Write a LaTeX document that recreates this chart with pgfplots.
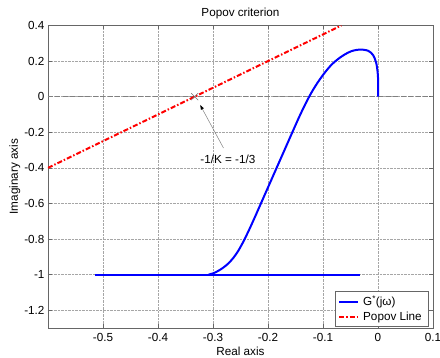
\documentclass[border=0pt]{standalone}
\usepackage{fontspec}
\setmainfont{Liberation Sans}
\usepackage{pgfplots}
\pgfplotsset{compat=1.18}
\usetikzlibrary{arrows.meta}
\newcommand{\ff}{\fontsize{11.7}{14}\selectfont}
\begin{document}
\begin{tikzpicture}
\begin{axis}[
  at={(0pt,0pt)}, anchor=south west,
  scale only axis, width=385pt, height=302.5pt,
  xmin=-0.6, xmax=0.1, ymin=-1.3, ymax=0.4,
  xtick={-0.5,-0.4,-0.3,-0.2,-0.1,0,0.1},
  ytick={-1.2,-1,-0.8,-0.6,-0.4,-0.2,0,0.2,0.4},
  /pgf/number format/assume math mode=true,
  /pgf/number format/fixed,
  tick label style={font=\ff},
  xticklabel style={yshift=-2pt},
  tick align=inside, xtick pos=both, ytick pos=both,
  major tick length=4pt,
  tick style={black!60, line width=0.5pt},
  axis line style={black!60, line width=0.6pt},
  grid=major,
  grid style={densely dotted, black!35, line width=0.5pt},
  title={Popov criterion},
  xlabel={Real axis},
  ylabel={Imaginary axis},
  every axis title/.style={at={(axis description cs:0.5,1.0298)}, anchor=base, font=\ff},
  every axis x label/.style={at={(axis description cs:0.5,-0.0909)}, anchor=base, font=\ff},
  every axis y label/.style={at={(axis description cs:-0.0785,0.5)}, rotate=90, anchor=base, font=\ff},
  legend style={at={(axis description cs:1,0)}, anchor=south east, xshift=-4pt, yshift=1pt,
    font=\ff, draw=black!60, line width=0.5pt, inner xsep=3pt, inner ysep=2pt,
    nodes={inner xsep=4pt, inner ysep=2.5pt}, cells={anchor=west}},
  legend image code/.code={\draw[#1] (0pt,0pt) -- (19pt,0pt);},
]
\addplot[forget plot, black!50, line width=0.6pt, dash pattern=on 5pt off 2.5pt] coordinates {(-0.6,0) (0.1,0)};
\addplot[blue, line width=2pt, smooth, tension=0.5] coordinates {
(0,0) (0,0.11) (-0.003,0.187) (-0.009,0.234) (-0.018,0.258) (-0.033,0.265)
(-0.048,0.256) (-0.060,0.238) (-0.072,0.213) (-0.085,0.178) (-0.098,0.130)
(-0.110,0.078) (-0.121,0.023) (-0.132,-0.041) (-0.143,-0.112) (-0.154,-0.188)
(-0.168,-0.286) (-0.182,-0.384) (-0.196,-0.482) (-0.210,-0.580) (-0.224,-0.678)
(-0.234,-0.746) (-0.244,-0.810) (-0.254,-0.866) (-0.263,-0.906) (-0.272,-0.937)
(-0.281,-0.960) (-0.290,-0.978) (-0.299,-0.992) (-0.308,-1.0)};
\addlegendentry{G\textsuperscript{*}(jω)}
\addplot[red, line width=2pt, dash pattern=on 5pt off 2pt on 1.5pt off 2pt] coordinates {(-0.6,-0.4) (-0.0667,0.4)};
\addlegendentry{Popov Line}
\addplot[forget plot, blue, line width=2pt] coordinates {(-0.515,-1) (-0.033,-1)};
\addplot[forget plot, only marks, mark=x, mark size=5pt, black!55, mark options={line width=0.5pt}] coordinates {(-0.3333,0)};
\draw[black!50, line width=0.5pt, -{Latex[length=5pt,width=3.5pt,black]}] (axis cs:-0.281,-0.288) -- (axis cs:-0.3236,-0.045);
\node[font=\ff] at (axis cs:-0.273,-0.354) {-1/K = -1/3};
\end{axis}
\pgfresetboundingbox
\useasboundingbox (-48pt,-30pt) rectangle (392pt,328pt);
\end{tikzpicture}
\end{document}
